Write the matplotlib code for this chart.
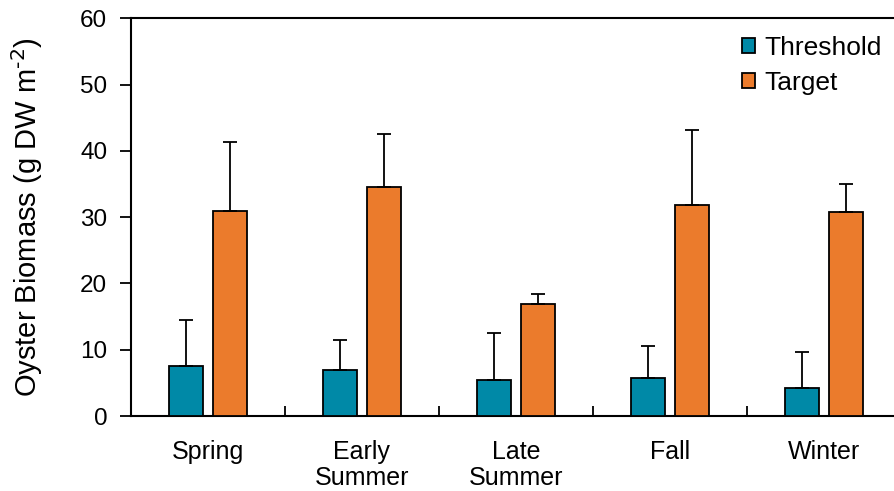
import numpy as np
from matplotlib import pyplot as plt

plt.rcParams['font.family'] = ['Liberation Sans', 'DejaVu Sans']

seasons = ['Spring', 'Early\nSummer', 'Late\nSummer', 'Fall', 'Winter']
threshold = [7.5, 6.9, 5.4, 5.7, 4.2]
threshold_err = [7.0, 4.5, 7.2, 4.8, 5.4]
target = [31.0, 34.6, 16.9, 31.9, 30.8]
target_err = [10.3, 7.9, 1.5, 11.2, 4.2]

teal = '#0089a7'
orange = '#eb7b2c'

fig = plt.figure(figsize=(8.94, 4.91), dpi=100)
ax = fig.add_axes([0.1465, 0.1527, 0.861, 0.81])

x = np.arange(len(seasons))
w = 0.22
off = 0.143
ekw = {'elinewidth': 1.3, 'capthick': 1.3, 'ecolor': 'black'}

ax.bar(x - off, threshold, w, color=teal, edgecolor='black', linewidth=1.3,
       yerr=[np.zeros(len(x)), threshold_err], capsize=5, error_kw=ekw,
       label='Threshold', zorder=3)
ax.bar(x + off, target, w, color=orange, edgecolor='black', linewidth=1.3,
       yerr=[np.zeros(len(x)), target_err], capsize=5, error_kw=ekw,
       label='Target', zorder=3)

ax.set_xlim(-0.5, len(seasons) - 0.5)
ax.set_ylim(0, 60)
ax.set_yticks(range(0, 61, 10))
ax.set_xticks(x)
ax.set_xticklabels(seasons, fontsize=18, linespacing=1.15)
ax.set_xticks(np.arange(0.5, len(seasons) - 0.5), minor=True)
ax.tick_params(axis='x', which='major', length=0, pad=17)
ax.tick_params(axis='x', which='minor', direction='in', length=7, width=1.3)
ax.tick_params(axis='y', direction='out', length=8, width=1.3, labelsize=17.5, pad=9)

ax.spines['right'].set_visible(False)
for s in ['left', 'bottom', 'top']:
    ax.spines[s].set_linewidth(1.5)

ax.set_ylabel('Oyster Biomass (g DW m$^{\\text{-2}}$)', fontsize=21)
ax.yaxis.set_label_coords(-0.112, 0.5)

ax.legend(loc='upper right', bbox_to_anchor=(0.998, 0.948), bbox_transform=fig.transFigure,
          frameon=False, fontsize=19, handlelength=0.5, handleheight=0.5,
          handletextpad=0.35, labelspacing=0.42, borderaxespad=0)

plt.savefig('out.png', dpi=100)
